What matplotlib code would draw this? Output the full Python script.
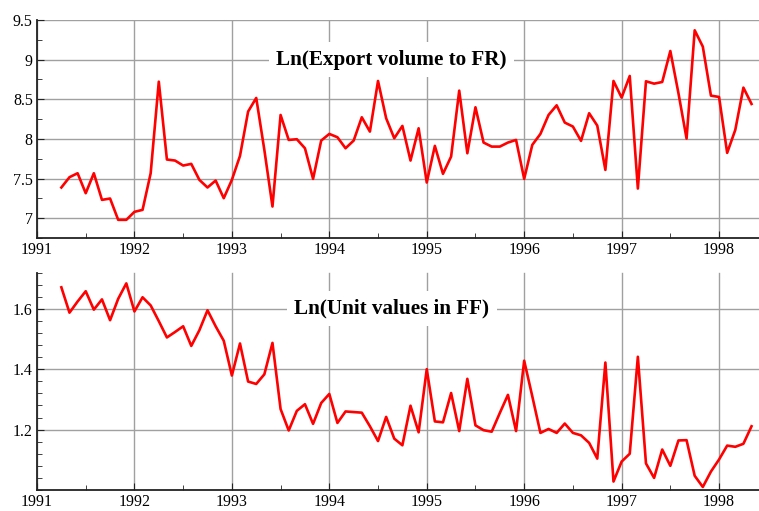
import numpy as np
import matplotlib
matplotlib.use("Agg")
import matplotlib.pyplot as plt
from matplotlib.ticker import FormatStrFormatter, MultipleLocator

# monthly observations, April 1991 .. May 1998
start_year = 1991.25
export_volume = [
    7.387, 7.517, 7.567, 7.315, 7.567, 7.231, 7.248, 6.979, 6.979,
    7.080, 7.105, 7.567, 8.722, 7.740, 7.727, 7.664, 7.685, 7.483, 7.387, 7.475, 7.252,
    7.483, 7.786, 8.345, 8.517, 7.861, 7.147, 8.302, 7.987, 7.996, 7.882, 7.496, 7.979,
    8.063, 8.021, 7.882, 7.979, 8.273, 8.092, 8.731, 8.261, 8.008, 8.164, 7.727, 8.134,
    7.450, 7.912, 7.559, 7.777, 8.609, 7.819, 8.399, 7.954, 7.903, 7.903, 7.954, 7.987,
    7.496, 7.925, 8.063, 8.302, 8.424, 8.206, 8.156, 7.975, 8.324, 8.168, 7.609, 8.731,
    8.521, 8.794, 7.374, 8.727, 8.697, 8.718, 9.109, 8.576, 8.004, 9.370, 9.164, 8.546,
    8.529, 7.824, 8.114, 8.647, 8.441,
]
unit_values = [
    1.671, 1.587, 1.624, 1.658, 1.597, 1.631, 1.562, 1.633, 1.684,
    1.591, 1.638, 1.611, 1.559, 1.505, 1.523, 1.542, 1.477, 1.529, 1.595, 1.542, 1.494,
    1.379, 1.485, 1.359, 1.351, 1.383, 1.487, 1.268, 1.197, 1.262, 1.284, 1.219, 1.288,
    1.318, 1.222, 1.260, 1.258, 1.256, 1.211, 1.162, 1.242, 1.170, 1.148, 1.279, 1.191,
    1.400, 1.227, 1.224, 1.321, 1.195, 1.368, 1.214, 1.198, 1.193, 1.255, 1.315, 1.195,
    1.428, 1.310, 1.189, 1.202, 1.189, 1.220, 1.189, 1.181, 1.156, 1.104, 1.422, 1.028,
    1.094, 1.120, 1.441, 1.088, 1.040, 1.134, 1.080, 1.164, 1.165, 1.047, 1.010, 1.061,
    1.101, 1.147, 1.143, 1.153, 1.211,
]
years = [1991, 1992, 1993, 1994, 1995, 1996, 1997, 1998]
top_yticks = [7, 7.5, 8, 8.5, 9, 9.5]
bottom_yticks = [1.2, 1.4, 1.6]
titles = ["Ln(Export volume to FR)", "Ln(Unit values in FF)"]

t = start_year + np.arange(len(export_volume)) / 12.0

plt.rcParams['font.family'] = ['Liberation Serif', 'DejaVu Serif']

fig = plt.figure(figsize=(7.59, 5.11), dpi=100)
ax1 = fig.add_axes([37 / 759, 1 - 238 / 511, 722 / 759, 218 / 511])
ax2 = fig.add_axes([37 / 759, 1 - 490 / 511, 722 / 759, 217.5 / 511])

panels = [
    (ax1, export_volume, (6.75, 9.5), top_yticks, 0.25, 9.0),
    (ax2, unit_values, (1.0, 1.72), bottom_yticks, 0.04, 1.6),
]
for (ax, vals, ylim, yt, minor, title_y), title in zip(panels, titles):
    ax.plot(t, vals, color='#ff0000', lw=1.9, zorder=3)
    ax.set_xlim(1991, 1998.41)
    ax.set_ylim(*ylim)
    ax.set_xticks(years)
    ax.set_xticklabels([str(y) for y in years])
    ax.xaxis.set_minor_locator(MultipleLocator(0.5))
    ax.set_yticks(yt)
    ax.yaxis.set_major_formatter(FormatStrFormatter('%g'))
    ax.yaxis.set_minor_locator(MultipleLocator(minor))
    ax.grid(True, which='major', color='#a0a0a0', lw=1.0, zorder=0)
    for s in ['top', 'right']:
        ax.spines[s].set_visible(False)
    for s in ['left', 'bottom']:
        ax.spines[s].set_color('#222222')
        ax.spines[s].set_linewidth(1.3)
    ax.tick_params(which='both', direction='in', color='#222222', labelsize=11.5, pad=3)
    ax.tick_params(which='major', length=5)
    ax.tick_params(which='minor', length=3.5)
    ax.text(1994.64, title_y, title, ha='center', va='center', fontsize=15.2,
            fontweight='bold', zorder=4,
            bbox=dict(boxstyle='square,pad=0.35', facecolor='white', edgecolor='none'))

fig.savefig('out.png', dpi=100)
